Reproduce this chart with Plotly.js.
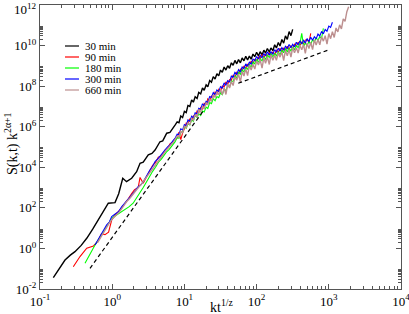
<!DOCTYPE html>
<html><head><meta charset="utf-8">
<script src="https://cdn.plot.ly/plotly-3.0.1.min.js"></script>
<style>html,body{margin:0;padding:0;background:#fff}</style>
</head><body><div id="chart" style="width:409px;height:314px"></div>
<script>
// ---- data ----
const seriesNames = ['30 min','90 min','180 min','300 min','660 min'];
const seriesColors = ['#000000','#ff0000','#00ff00','#0000ff','#bc8f8f'];

// shared dense k grid (kt^{1/z}) used by the noisy high-k part of each curve
const ktDense = [7.94,8.41,8.91,9.44,10.0,10.6,11.2,11.9,12.6,13.3,14.1,15.0,15.8,16.8,17.8,18.8,20.0,21.1,22.4,23.7,25.1,26.6,28.2,29.9,31.6,33.5,35.5,37.6,39.8,42.2,44.7,47.3,50.1,53.1,56.2,59.6,63.1,66.8,70.8,75.0,79.4,84.1,89.1,94.4,100,106,112,119,126,133,141,150,158,168,178,188,200,211,224,237,251,266,282,299,316,335,355,376,398,422,447,473,501,531,562,596,631,668,708,750,794,841,891,944,1000,1059,1122,1189,1259,1334,1413,1496,1585,1679,1778,1884];

// 30 min
const x30Low = [0.153,0.186,0.222,0.263,0.305,0.372,0.444,0.537,0.641,0.759,0.883,1.094,1.23,1.40,1.58,1.86,2.18,2.43,2.69,3.16,3.55,3.92,4.59,5.01,5.69,6.31,7.01,7.50];
const y30Low = [0.036,0.105,0.269,0.468,0.692,1.41,3.16,8.9,25.1,70.8,170,182,501,2880,1950,2880,6030,1.58e4,1.78e4,4.07e4,4.79e4,7.08e4,1.82e5,2.0e5,4.79e5,5.25e5,8.3e5,1.26e6];
const y30Dense = [1.74e6,1.58e6,3.39e6,2.82e6,5.75e6,5.01e6,1.12e7,1.0e7,2.09e7,1.62e7,3.02e7,2.45e7,4.9e7,4.17e7,8.1e7,6.3e7,1.15e8,9.3e7,1.9e8,1.55e8,2.95e8,2.24e8,4.1e8,3.2e8,6.2e8,4.8e8,8.7e8,6.2e8,1.02e9,7.6e8,1.41e9,1.07e9,1.86e9,1.26e9,2.04e9,1.41e9,2.45e9,1.78e9,2.95e9,1.95e9,3.02e9,2.14e9,3.8e9,2.82e9,4.7e9,3.1e9,5.0e9,3.47e9,5.9e9,4.27e9,7.2e9,4.8e9,7.6e9,5.6e9,1.1e10,7.6e9,1.41e10,9.5e9,2.0e10,1.32e10,3.0e10,2.0e10,4.9e10,3.1e10,6.3e10];

// 90 min
const x90Low = [0.289,0.358,0.444,0.550,0.631,0.708,0.794,0.891,0.984,1.15,1.32,1.50,1.67,1.86,2.04,2.29,2.43,2.69,3.01,3.33,3.63,3.92,4.35,4.79,5.38,5.89,6.31,6.92,7.41];
const y90Low = [0.126,0.398,1.02,1.32,2.24,5.25,4.79,6.31,25.1,53.7,89.1,158,282,501,794,1000,3160,1620,3550,6030,1.26e4,1.58e4,3.16e4,3.55e4,7.08e4,8.91e4,1.41e5,1.78e5,2.51e5];
const y90Dense = [2.75e5,5.4e5,2.29e5,5.0e5,7.8e5,1.51e6,1.41e6,2.51e6,1.95e6,3.39e6,3.24e6,5.9e6,4.9e6,8.9e6,7.4e6,1.41e7,1.26e7,2.34e7,1.86e7,3.24e7,2.95e7,5.1e7,3.98e7,6.9e7,5.5e7,1.02e8,9.1e7,1.62e8,1.23e8,2.09e8,1.95e8,3.55e8,2.75e8,4.8e8,3.8e8,6.8e8,5.75e8,1.0e9,7.4e8,1.2e9,1.05e9,1.74e9,1.29e9,2.14e9,1.58e9,2.75e9,2.24e9,3.63e9,2.51e9,3.72e9,3.02e9,4.7e9,3.24e9,5.0e9,3.55e9,5.9e9,4.7e9,7.4e9,5.0e9,7.4e9,6.0e9,9.3e9,6.5e9,1.0e10,7.1e9,1.17e10,9.3e9,1.48e10,1.0e10,1.48e10,1.2e10,1.86e10,2.0e10,1.41e10,4.0e10];

// 180 min
const x180Low = [0.420,0.493,0.578,0.676,0.759,0.832,0.933,1.0,1.12,1.23,1.35,1.50,1.70,1.95,2.14,2.29,2.51,2.69,3.01,3.33,3.63,3.98,4.37,4.79,5.25,5.62,6.17,6.61,7.41];
const y180Low = [0.186,0.575,1.48,3.55,6.31,11.2,22.4,31.6,41.7,52.5,63.1,79.4,112,170,282,398,631,1000,2000,3980,6310,1.0e4,1.78e4,2.51e4,3.98e4,5.62e4,7.59e4,1.0e5,1.78e5];
const y180Dense = [2.95e5,2.69e5,5.5e5,5.25e5,1.02e6,8.3e5,1.41e6,1.23e6,2.19e6,1.86e6,3.63e6,2.88e6,4.37e6,3.55e6,6.0e6,5.4e6,9.3e6,7.9e6,1.55e7,1.38e7,2.45e7,1.91e7,3.1e7,2.69e7,4.7e7,3.8e7,7.1e7,6.0e7,1.07e8,9.5e7,1.78e8,1.7e8,3.16e8,2.57e8,4.8e8,3.9e8,6.6e8,5.0e8,7.9e8,6.8e8,1.12e9,8.7e8,1.55e9,1.26e9,2.09e9,1.51e9,2.24e9,1.78e9,2.82e9,2.04e9,3.39e9,2.57e9,4.07e9,2.82e9,4.07e9,3.16e9,4.9e9,3.55e9,5.9e9,4.47e9,7.1e9,4.9e9,7.1e9,5.5e9,8.5e9,6.2e9,1.02e10,7.8e9,1.23e10,4.0e10,9.1e9,1.32e10,1.02e10,1.58e10,1.15e10,1.95e10,1.51e10,2.45e10,1.78e10,2.75e10,2.29e10,7.1e10];

// 300 min
const x300Low = [0.578,0.678,0.759,0.839,0.912,0.984,1.10,1.22,1.35,1.50,1.66,1.86,2.04,2.29,2.51,2.69,3.01,3.33,3.63,3.92,4.35,4.79,5.38,5.89,6.31,6.92,7.41];
const y300Low = [1.48,3.80,7.08,14.5,20.0,37.2,50.1,64.6,112,170,251,437,631,1100,1410,1950,4170,7410,1.12e4,1.91e4,2.75e4,4.47e4,7.08e4,1.05e5,1.26e5,2.0e5,2.63e5];
const y300Dense = [4.27e5,4.07e5,7.94e5,6.92e5,1.26e6,1.12e6,2.19e6,1.86e6,3.31e6,2.75e6,4.9e6,4.27e6,8.1e6,7.2e6,1.35e7,1.07e7,1.78e7,1.58e7,3.1e7,2.75e7,4.8e7,3.8e7,6.5e7,5.4e7,9.5e7,8.1e7,1.45e8,1.12e8,1.86e8,1.62e8,3.1e8,2.75e8,4.8e8,3.8e8,6.5e8,5.1e8,8.7e8,7.2e8,1.26e9,9.5e8,1.51e9,1.23e9,2.19e9,1.78e9,2.88e9,2.14e9,3.31e9,2.51e9,4.07e9,3.1e9,4.9e9,3.39e9,5.0e9,3.8e9,6.3e9,4.8e9,7.4e9,5.25e9,7.9e9,5.9e9,9.3e9,7.1e9,1.12e10,7.8e9,1.15e10,8.7e9,1.45e10,1.1e10,1.7e10,1.2e10,1.82e10,1.35e10,2.14e10,1.62e10,2.57e10,1.82e10,2.75e10,2.14e10,3.7e10,3.0e10,5.0e10,3.8e10,6.2e10,5.1e10,9.1e10,7.8e10,1.41e11];

// 660 min
const x660Low = [0.631,0.708,0.794,0.891,1.0,1.12,1.26,1.41,1.58,1.78,2.0,2.24,2.51,2.82,3.16,3.55,3.98,4.47,5.01,5.62,6.31,7.08];
const y660Low = [2.0,4.17,7.94,15.8,28.2,41.7,63.1,112,200,316,562,891,1410,2510,4470,7940,1.41e4,2.51e4,4.17e4,7.08e4,1.12e5,1.78e5];
const y660Dense = [3.39e5,3.02e5,5.9e5,4.8e5,1.1e6,8.9e5,1.58e6,1.23e6,2.51e6,2.09e6,3.9e6,2.95e6,6.6e6,5.4e6,9.5e6,7.6e6,1.51e7,1.26e7,2.34e7,1.78e7,3.72e7,2.88e7,4.9e7,3.8e7,6.6e7,3.8e7,8.1e7,3.9e7,1.29e8,8.1e7,1.7e8,1.07e8,2.88e8,1.95e8,3.98e8,1.58e8,5.4e8,3.16e8,7.1e8,3.31e8,1.05e9,6.2e8,1.2e9,6.9e8,1.74e9,1.1e9,2.04e9,7.8e8,2.51e9,1.35e9,2.75e9,1.17e9,3.47e9,1.91e9,3.47e9,1.86e9,4.47e9,2.69e9,4.9e9,1.82e9,5.75e9,3.1e9,6.3e9,2.69e9,7.9e9,4.37e9,7.9e9,4.27e9,1.02e10,6.2e9,1.12e10,4.17e9,1.32e10,7.1e9,1.45e10,6.3e9,1.91e10,1.07e10,2.0e10,1.1e10,2.69e10,1.66e10,3.1e10,1.17e10,3.9e10,2.19e10,4.8e10,2.51e10,7.4e10,4.7e10,1.05e11,6.6e10,2.04e11,1.58e11,4.7e11,8.3e11];

// dashed guide lines (two power laws)
const guide1X = [0.493, 19.0];
const guide1Y = [0.105, 7.4e6];
const guide2X = [55.7, 977];
const guide2Y = [1.38e8, 6.0e9];

// tick labels (the top 10^12 label is drawn as an annotation so it is not clipped)
const xTickVals = [0.1,1,10,100,1000,10000];
const xTickText = ['10<sup>-1</sup>','10<sup>0</sup>','10<sup>1</sup>','10<sup>2</sup>','10<sup>3</sup>','10<sup>4</sup>'];
const yTickVals = [1e-2,1,1e2,1e4,1e6,1e8,1e10,1e12];
const yTickText = ['10<sup>-2</sup>','10<sup>0</sup>','10<sup>2</sup>','10<sup>4</sup>','10<sup>6</sup>','10<sup>8</sup>','10<sup>10</sup>',''];
const yTopLabel = '10<sup>12</sup>';

// ---- build traces ----
const lows = [[x30Low,y30Low,y30Dense],[x90Low,y90Low,y90Dense],[x180Low,y180Low,y180Dense],[x300Low,y300Low,y300Dense],[x660Low,y660Low,y660Dense]];
const widths = [1.4,1.1,1.1,1.1,1.4];
const traces = lows.map((s,i)=>({
  type:'scatter', mode:'lines', name:seriesNames[i],
  x: s[0].concat(ktDense.slice(0, s[2].length)),
  y: s[1].concat(s[2]),
  line:{color:seriesColors[i], width:widths[i]}
}));
traces.push({type:'scatter',mode:'lines',x:guide1X,y:guide1Y,line:{color:'#000',width:1.2,dash:'4px,3px'},showlegend:false});
traces.push({type:'scatter',mode:'lines',x:guide2X,y:guide2Y,line:{color:'#000',width:1.2,dash:'4px,3px'},showlegend:false});

// minor tick positions
const xMinor=[]; for(let e=-1;e<4;e++){for(let m=2;m<10;m++){xMinor.push(m*Math.pow(10,e));}}
const yMinor=[]; for(let e=-2;e<12;e+=2){for(let m=2;m<10;m++){yMinor.push(m*Math.pow(10,e));}}

const L=40,R=8,T=5,B=25,W=409,H=314;
const px=(p)=> (p-L)/(W-L-R);
const py=(p)=> (H-B-p)/(H-T-B);

const FONT = 'Liberation Serif';
const axisCommon = {showline:true, linecolor:'#555', linewidth:1, mirror:'allticks', ticks:'inside', ticklen:5, tickcolor:'#555', tickwidth:1, showgrid:false, zeroline:false, tickmode:'array', ticklabeloverflow:'allow', tickfont:{family:FONT,size:13,color:'#000'}};

const annotations = [];
const shapes = [];
const legY = [46,57,68,79,90];
seriesNames.forEach((n,i)=>{
  shapes.push({type:'line',xref:'paper',yref:'paper',x0:px(65),x1:px(79),y0:py(legY[i]),y1:py(legY[i]),line:{color:seriesColors[i],width:1.2}});
  annotations.push({xref:'paper',yref:'paper',x:px(83),y:py(legY[i]),xanchor:'left',yanchor:'middle',text:n,showarrow:false,font:{family:FONT,size:11,color:'#000'}});
});
annotations.push({xref:'paper',yref:'paper',x:px(222),y:py(306),xanchor:'center',yanchor:'middle',text:'kt<sup>1/z</sup>',showarrow:false,font:{family:FONT,size:14,color:'#000'}});
annotations.push({xref:'paper',yref:'paper',x:px(11),y:py(144),xanchor:'center',yanchor:'middle',text:'S(k,t) k<sup>2α+1</sup>',textangle:-90,showarrow:false,font:{family:FONT,size:14,color:'#000'}});
annotations.push({xref:'paper',yref:'paper',x:px(38),y:py(0),xanchor:'right',yanchor:'top',text:yTopLabel,showarrow:false,borderpad:0,font:{family:FONT,size:13,color:'#000'}});

const layout = {
  width:W, height:H, margin:{l:L,r:R,t:T,b:B},
  paper_bgcolor:'#fff', plot_bgcolor:'#fff', showlegend:false,
  font:{family:FONT, size:13, color:'#000'},
  xaxis:Object.assign({}, axisCommon, {type:'log', range:[-1,4], tickvals:xTickVals, ticktext:xTickText,
    minor:{tickmode:'array', tickvals:xMinor, ticks:'inside', ticklen:3, tickcolor:'#555', showgrid:false}}),
  yaxis:Object.assign({}, axisCommon, {type:'log', range:[-2,12], tickvals:yTickVals, ticktext:yTickText,
    minor:{tickmode:'array', tickvals:yMinor, ticks:'inside', ticklen:3, tickcolor:'#555', showgrid:false}}),
  annotations:annotations, shapes:shapes
};
Plotly.newPlot('chart', traces, layout, {staticPlot:true, displayModeBar:false});
</script></body></html>
